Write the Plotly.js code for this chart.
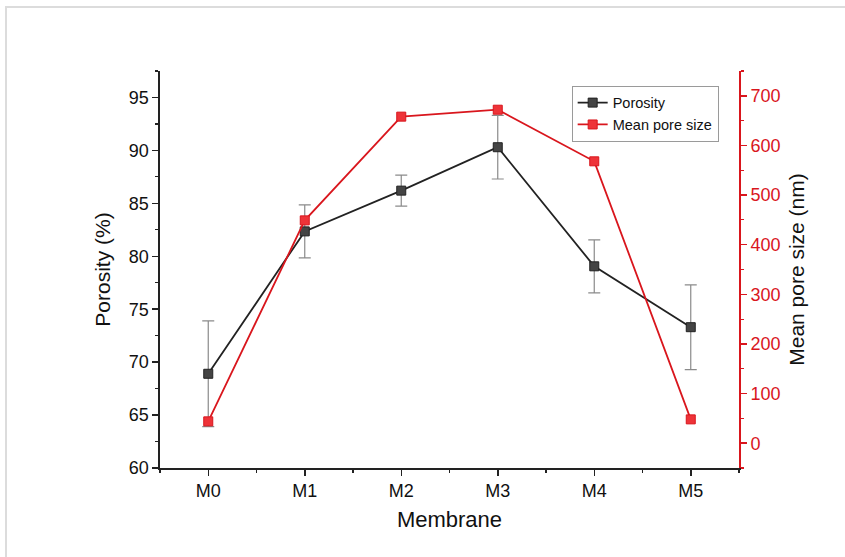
<!DOCTYPE html>
<html>
<head>
<meta charset="utf-8">
<script src="https://cdn.plot.ly/plotly-3.0.1.min.js"></script>
<style>
html,body{margin:0;padding:0;background:#fff;}
#frame{position:absolute;left:5px;top:6px;width:850px;height:560px;border-top:2px solid #dcdcdc;border-left:2px solid #dcdcdc;}
#chart{position:absolute;left:0;top:0;width:845px;height:557px;}
</style>
</head>
<body>
<div id="frame"></div>
<div id="chart"></div>
<script>
const membranes = ["M0", "M1", "M2", "M3", "M4", "M5"];
const porosity = [68.9, 82.35, 86.2, 90.3, 79.05, 73.3];
const porosityErr = [5.0, 2.5, 1.47, 3.0, 2.5, 4.0];
const poreSize = [44, 449, 658, 672, 568, 48];

const xIdx = membranes.map((_, i) => i);
const FONT = "Arial, 'Liberation Sans', sans-serif";

const traces = [
  {
    x: xIdx, y: porosity, name: "Porosity", type: "scatter", mode: "lines+markers",
    line: {color: "#222222", width: 1.8},
    marker: {symbol: "square", size: 9, color: "#444444", line: {color: "#222222", width: 1}},
    error_y: {type: "data", array: porosityErr, visible: true, color: "#8a8a8a", thickness: 1.2, width: 6},
    xaxis: "x", yaxis: "y"
  },
  {
    x: xIdx, y: poreSize, name: "Mean pore size", type: "scatter", mode: "lines+markers",
    line: {color: "#d9161d", width: 1.8},
    marker: {symbol: "square", size: 9, color: "#ee3338", line: {color: "#d9161d", width: 1}},
    xaxis: "x", yaxis: "y2"
  }
];

const layout = {
  width: 845, height: 557,
  paper_bgcolor: "rgba(0,0,0,0)", plot_bgcolor: "rgba(0,0,0,0)",
  margin: {l: 160, r: 106, t: 71, b: 89},
  font: {family: FONT, color: "#111"},
  showlegend: true,
  legend: {
    x: 0.711, y: 0.963, xanchor: "left", yanchor: "top",
    bordercolor: "#9a9a9a", borderwidth: 1, bgcolor: "#fff",
    font: {size: 14.5, family: FONT, color: "#111"},
    tracegroupgap: 0, itemwidth: 30
  },
  xaxis: {
    range: [-0.5, 5.5], tickmode: "array", tickvals: xIdx, ticktext: membranes,
    showline: true, linecolor: "#222", linewidth: 1.6,
    ticks: "outside", ticklen: 6, tickwidth: 1.5, tickcolor: "#222",
    minor: {ticks: "outside", ticklen: 3, tickwidth: 1.2, tickcolor: "#222", tickmode: "linear", tick0: 0.5, dtick: 1},
    showgrid: false, zeroline: false,
    tickfont: {size: 18, color: "#111"},
    title: {text: "Membrane", font: {size: 22, color: "#111"}, standoff: 11}
  },
  xaxis2: {
    overlaying: "x", anchor: "y", side: "top", range: [-0.5, 5.5],
    tickmode: "array", tickvals: xIdx, showticklabels: false,
    showline: true, linecolor: "#222", linewidth: 1.6,
    ticks: "inside", ticklen: 6, tickwidth: 1.5, tickcolor: "#222",
    minor: {ticks: "inside", ticklen: 3, tickwidth: 1.2, tickcolor: "#222", tickmode: "linear", tick0: 0.5, dtick: 1},
    showgrid: false, zeroline: false
  },
  yaxis: {
    range: [60, 97.5], tickmode: "linear", tick0: 60, dtick: 5,
    showline: true, linecolor: "#222", linewidth: 1.6,
    ticks: "outside", ticklen: 6, tickwidth: 1.5, tickcolor: "#222",
    minor: {ticks: "outside", ticklen: 3, tickwidth: 1.2, tickcolor: "#222", dtick: 2.5},
    showgrid: false, zeroline: false,
    tickfont: {size: 18, color: "#111"},
    title: {text: "Porosity (%)", font: {size: 21, color: "#111"}, standoff: 12}
  },
  yaxis2: {
    overlaying: "y", side: "right", anchor: "x",
    range: [-50, 750], tickmode: "linear", tick0: 0, dtick: 100,
    showline: true, linecolor: "#d9161d", linewidth: 1.8,
    ticks: "outside", ticklen: 6, tickwidth: 1.5, tickcolor: "#d9161d",
    minor: {ticks: "outside", ticklen: 3, tickwidth: 1.2, tickcolor: "#d9161d", dtick: 50},
    showgrid: false, zeroline: false,
    tickfont: {size: 18, color: "#d9161d"},
    title: {text: "Mean pore size (nm)", font: {size: 21, color: "#111"}, standoff: 10}
  }
};

Plotly.newPlot("chart", traces, layout, {displayModeBar: false, staticPlot: true});
</script>
</body>
</html>
